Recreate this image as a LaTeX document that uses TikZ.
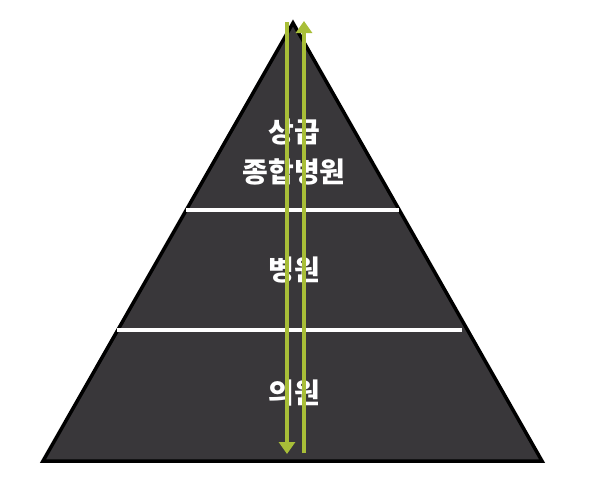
\documentclass[tikz,border=0pt]{standalone}
\usepackage{fontspec}
\newfontfamily\krfont{Noto Sans CJK KR}
\usetikzlibrary{arrows.meta}
\definecolor{pyramidfill}{RGB}{57,55,58}
\definecolor{flowgreen}{RGB}{168,190,56}

\begin{document}
\begin{tikzpicture}[x=1pt, y=-1pt,
% Shape styles
 pyramid/.style={draw=black, line width=3.5pt, fill=pyramidfill, line join=miter},
 divider/.style={draw=white, line width=4pt},
% Arrow styles
 flow/.style={draw=flowgreen, line width=4pt, -{Triangle[width=16pt, length=12pt]}},
% Text styles
 tier/.style={text=white, font=\krfont\bfseries\fontsize{28}{40}\selectfont, align=center}
]
\useasboundingbox (0,0) rectangle (592,488);

\coordinate (apex) at (293,23);
\coordinate (baseL) at (43,461);
\coordinate (baseR) at (542,461);

\draw[pyramid] (apex) -- (baseR) -- (baseL) -- cycle;

\coordinate (upperL) at (186,210);
\coordinate (upperR) at (399,210);
\coordinate (lowerL) at (117,330);
\coordinate (lowerR) at (462,330);

\draw[divider] (upperL) -- (upperR);
\draw[divider] (lowerL) -- (lowerR);

\node[tier] (tertiary) at (294,152) {상급\\종합병원};
\node[tier] (hospital) at (294,270) {병원};
\node[tier] (clinic) at (294,393) {의원};

\coordinate (downTop) at (287,22);
\coordinate (downEnd) at (287,454);
\coordinate (upBottom) at (304,453);
\coordinate (upEnd) at (304,21);

\draw[flow] (downTop) -- (downEnd);
\draw[flow] (upBottom) -- (upEnd);

\end{tikzpicture}
\end{document}
